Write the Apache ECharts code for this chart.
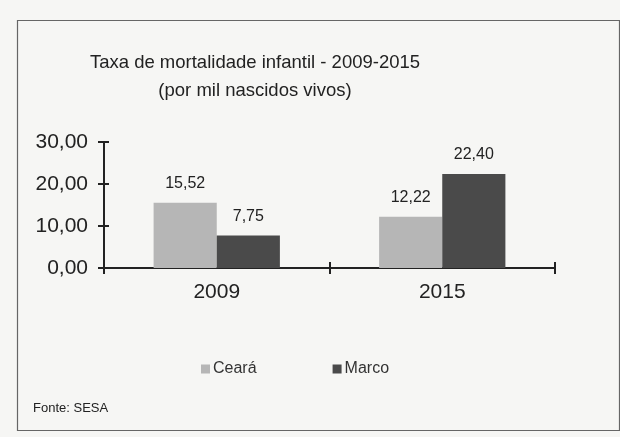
<!DOCTYPE html>
<html>
<head>
<meta charset="utf-8">
<script src="https://cdn.jsdelivr.net/npm/echarts@6/dist/echarts.min.js"></script>
<style>html,body{margin:0;padding:0;background:#f6f6f4;}#c{width:620px;height:437px;}</style>
</head>
<body>
<div id="c"></div>
<script>
var categories = ['2009', '2015'];
var seriesNames = ['Ceará', 'Marco'];
var cearaValues = [15.52, 12.22];
var marcoValues = [7.75, 22.40];
var yTicks = [0, 10, 20, 30];

function br(v) { return v.toFixed(2).replace('.', ','); }
var font = 'Liberation Sans, Arial, sans-serif';
var chart = echarts.init(document.getElementById('c'));
var axisLineStyle = { color: '#222', width: 2 };
chart.setOption({
  backgroundColor: '#f6f6f4',
  animation: false,
  title: {
    text: 'Taxa de mortalidade infantil - 2009-2015\n(por mil nascidos vivos)',
    left: 250, top: 44, textAlign: 'center',
    textStyle: { fontFamily: font, fontSize: 18.5, fontWeight: 'normal', color: '#222', lineHeight: 28 }
  },
  legend: {
    left: 196, top: 356, itemWidth: 9, itemHeight: 9, itemGap: 76,
    icon: 'rect',
    textStyle: { fontFamily: font, fontSize: 16, color: '#333', padding: [0, 0, 0, -2] },
    data: seriesNames
  },
  grid: { left: 104, right: 65, top: 142, bottom: 169 },
  xAxis: [{
    type: 'category', data: categories,
    axisLine: { lineStyle: axisLineStyle },
    axisTick: { show: true, length: 6, lineStyle: { color: '#222', width: 2 } },
    axisLabel: { fontFamily: font, fontSize: 21, color: '#222', margin: 14 }
  }, {
    type: 'category', data: categories, position: 'bottom',
    axisLine: { lineStyle: axisLineStyle },
    axisTick: { show: true, inside: true, length: 6, lineStyle: { color: '#222', width: 2 } },
    axisLabel: { show: false }
  }],
  yAxis: [{
    type: 'value', min: 0, max: 30, interval: 10,
    axisLine: { show: true, lineStyle: axisLineStyle },
    axisTick: { show: true, length: 6, lineStyle: { color: '#222', width: 2 } },
    splitLine: { show: false },
    axisLabel: { fontFamily: font, fontSize: 21, color: '#222', margin: 16, formatter: function (v) { return br(v); } }
  }, {
    type: 'value', min: 0, max: 30, interval: 10, position: 'left',
    axisLine: { show: true, lineStyle: axisLineStyle },
    axisTick: { show: true, inside: true, length: 5, lineStyle: { color: '#222', width: 2 } },
    splitLine: { show: false },
    axisLabel: { show: false }
  }],
  series: [{
    name: seriesNames[0], type: 'bar', data: cearaValues,
    barGap: '0%', barCategoryGap: '44%',
    itemStyle: { color: '#b6b6b6' },
    label: { show: true, position: 'top', distance: 11, fontFamily: font, fontSize: 16, color: '#222', formatter: function (p) { return br(p.value); } }
  }, {
    name: seriesNames[1], type: 'bar', data: marcoValues,
    barGap: '0%', barCategoryGap: '44%',
    itemStyle: { color: '#4a4a4a' },
    label: { show: true, position: 'top', distance: 11, fontFamily: font, fontSize: 16, color: '#222', formatter: function (p) { return br(p.value); } }
  }],
  graphic: [{
    type: 'rect', left: 15, top: 18, z: -1,
    shape: { width: 602, height: 410 },
    style: { fill: 'none', stroke: '#666', lineWidth: 1.2 }
  }, {
    type: 'text', left: 33, top: 402,
    style: { text: 'Fonte: SESA', fontFamily: font, fontSize: 13, fill: '#222' }
  }]
});
</script>
</body>
</html>
